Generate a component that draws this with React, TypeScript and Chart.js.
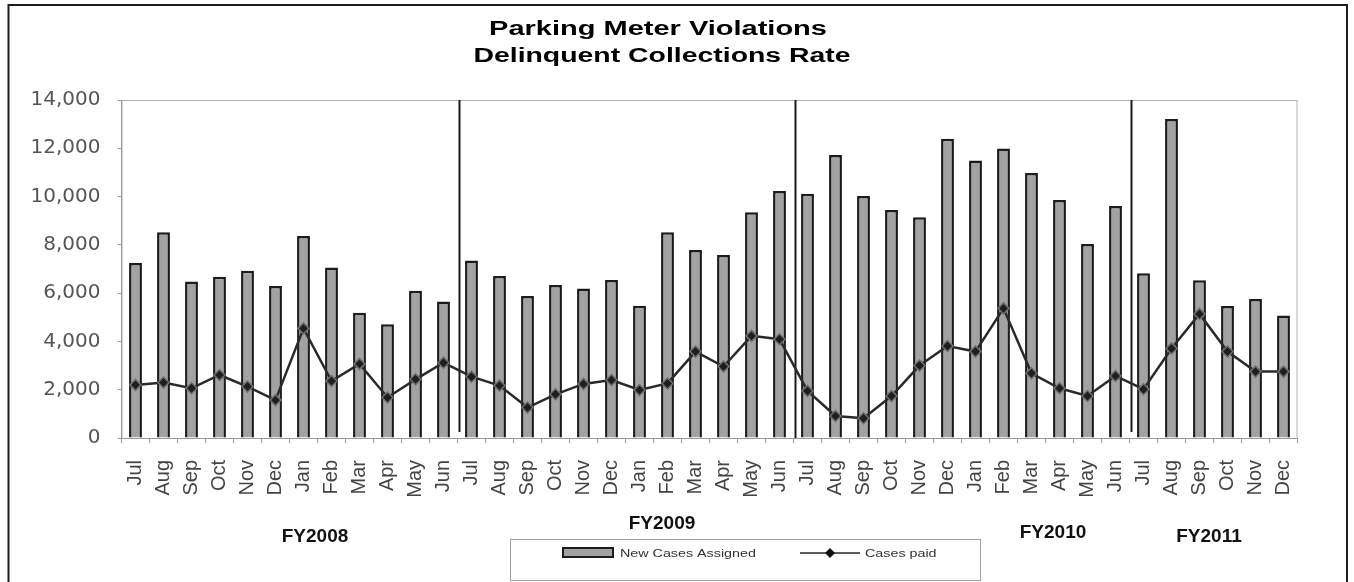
import React, { useEffect, useRef } from 'react';
import { Chart, registerables } from 'chart.js';

Chart.register(...registerables);

const monthLabels = [
  'Jul', 'Aug', 'Sep', 'Oct', 'Nov', 'Dec', 'Jan', 'Feb', 'Mar', 'Apr', 'May', 'Jun',
  'Jul', 'Aug', 'Sep', 'Oct', 'Nov', 'Dec', 'Jan', 'Feb', 'Mar', 'Apr', 'May', 'Jun',
  'Jul', 'Aug', 'Sep', 'Oct', 'Nov', 'Dec', 'Jan', 'Feb', 'Mar', 'Apr', 'May', 'Jun',
  'Jul', 'Aug', 'Sep', 'Oct', 'Nov', 'Dec',
];

const newCasesAssigned = [
  7250, 8520, 6480, 6680, 6930, 6300, 8370, 7060, 5190, 4710, 6100, 5650,
  7350, 6710, 5880, 6340, 6190, 6540, 5480, 8520, 7790, 7580, 9350, 10230,
  10120, 11720, 10020, 9440, 9140, 12390, 11490, 11990, 10980, 9860, 8040, 9610,
  6820, 13210, 6530, 5470, 5760, 5070,
];

const casesPaid = [
  2200, 2300, 2060, 2610, 2130, 1570, 4540, 2360, 3070, 1680, 2430, 3120,
  2540, 2170, 1260, 1810, 2240, 2400, 1990, 2260, 3580, 2960, 4230, 4090,
  1950, 910, 820, 1740, 3000, 3810, 3580, 5370, 2680, 2060, 1740, 2570,
  2020, 3710, 5140, 3580, 2750, 2750,
];

const fiscalYears = ['FY2008', 'FY2009', 'FY2010', 'FY2011'];
const fyStartIndex = [0, 12, 24, 36];
const titleLines = ['Parking Meter Violations', 'Delinquent Collections Rate'];
const seriesNames = ['New Cases Assigned', 'Cases paid'];
const yMin = 0;
const yMax = 14000;
const yStep = 2000;

// layout of annotation text (pixels)
const fyLabelPos = [
  { x: 315, y: 542 },
  { x: 662, y: 529 },
  { x: 1053, y: 538 },
  { x: 1209, y: 542 },
];

const BAR_FILL = '#a2a2a2';
const BAR_EDGE = '#1c1c1c';
const LINE_COLOR = '#2a2a2a';

function drawStretched(ctx: CanvasRenderingContext2D, text: string, x: number, y: number, sx: number, align: CanvasTextAlign) {
  ctx.save();
  ctx.translate(x, y);
  ctx.scale(sx, 1);
  ctx.textAlign = align;
  ctx.textBaseline = 'alphabetic';
  ctx.fillText(text, 0, 0);
  ctx.restore();
}

const decorPlugin = {
  id: 'decor',
  beforeDraw(chart: any) {
    const { ctx, width, height } = chart;
    const { left, top, right, bottom } = chart.chartArea;
    ctx.save();
    ctx.fillStyle = '#ffffff';
    ctx.fillRect(0, 0, width, height);
    // outer frame
    ctx.strokeStyle = '#1e1e1e';
    ctx.lineWidth = 2;
    ctx.beginPath();
    ctx.moveTo(8.5, height);
    ctx.lineTo(8.5, 5);
    ctx.lineTo(1347, 5);
    ctx.lineTo(1347, height);
    ctx.stroke();
    // plot area border
    ctx.strokeStyle = '#b0b0b0';
    ctx.lineWidth = 1;
    ctx.strokeRect(left + 0.5, top + 0.5, right - left - 1, bottom - top);
    ctx.restore();
  },
  beforeDatasetsDraw(chart: any) {
    const { ctx } = chart;
    const { top, bottom } = chart.chartArea;
    const xs = chart.scales.x;
    ctx.save();
    ctx.strokeStyle = '#1a1a1a';
    ctx.lineWidth = 2;
    fyStartIndex.slice(1).forEach((idx, i) => {
      const x = (xs.getPixelForValue(idx - 1) + xs.getPixelForValue(idx)) / 2 + 2;
      ctx.beginPath();
      ctx.moveTo(x, top);
      ctx.lineTo(x, i === 1 ? bottom : bottom - 6);
      ctx.stroke();
    });
    ctx.restore();
  },
  afterDraw(chart: any) {
    const { ctx } = chart;
    ctx.save();
    // title
    ctx.fillStyle = '#000000';
    ctx.font = 'bold 20px "Liberation Sans", Arial, sans-serif';
    drawStretched(ctx, titleLines[0], 658, 35, 1.45, 'center');
    drawStretched(ctx, titleLines[1], 662, 62, 1.42, 'center');

    // fiscal year labels
    ctx.fillStyle = '#111111';
    ctx.font = 'bold 19px "Liberation Sans", Arial, sans-serif';
    fiscalYears.forEach((fy, i) => {
      drawStretched(ctx, fy, fyLabelPos[i].x, fyLabelPos[i].y, 1.0, 'center');
    });

    // legend box
    const bx = 510, by = 539, bw = 470, bh = 41;
    ctx.strokeStyle = '#a0a0a0';
    ctx.lineWidth = 1;
    ctx.strokeRect(bx + 0.5, by + 0.5, bw, bh);
    const cy = 553;
    // bar swatch
    ctx.fillStyle = BAR_FILL;
    ctx.fillRect(563, cy - 5, 50, 9);
    ctx.strokeStyle = BAR_EDGE;
    ctx.lineWidth = 2;
    ctx.strokeRect(563, cy - 5, 50, 9);
    ctx.fillStyle = '#333333';
    ctx.font = '11px "Liberation Sans", Arial, sans-serif';
    drawStretched(ctx, seriesNames[0], 620, cy + 4, 1.3, 'left');
    // line swatch
    ctx.strokeStyle = LINE_COLOR;
    ctx.lineWidth = 1.5;
    ctx.beginPath();
    ctx.moveTo(800, cy);
    ctx.lineTo(860, cy);
    ctx.stroke();
    ctx.fillStyle = '#111111';
    ctx.beginPath();
    ctx.moveTo(830, cy - 5);
    ctx.lineTo(835, cy);
    ctx.lineTo(830, cy + 5);
    ctx.lineTo(825, cy);
    ctx.closePath();
    ctx.fill();
    ctx.fillStyle = '#333333';
    drawStretched(ctx, seriesNames[1], 865, cy + 4, 1.3, 'left');
    ctx.restore();
  },
};

export default function App() {
  const canvasRef = useRef<HTMLCanvasElement | null>(null);

  useEffect(() => {
    const canvas = canvasRef.current;
    if (!canvas) return;
    const chart = new Chart(canvas, {
      type: 'bar',
      data: {
        labels: monthLabels,
        datasets: [
          {
            type: 'line',
            label: seriesNames[1],
            data: casesPaid,
            borderColor: LINE_COLOR,
            borderWidth: 2.5,
            pointStyle: 'rectRot',
            pointRadius: 5.5,
            pointBackgroundColor: '#1e1e1e',
            pointBorderColor: '#6e6e6e',
            pointBorderWidth: 1.5,
            tension: 0,
            fill: false,
            order: 0,
          } as any,
          {
            type: 'bar',
            label: seriesNames[0],
            data: newCasesAssigned,
            backgroundColor: BAR_FILL,
            borderColor: BAR_EDGE,
            borderWidth: 2.5,
            barPercentage: 0.46,
            categoryPercentage: 1.0,
            order: 1,
          } as any,
        ],
      },
      options: {
        responsive: false,
        animation: false,
        layout: { padding: { left: 0, right: 56.5, top: 100, bottom: 44 } },
        plugins: {
          legend: { display: false },
          title: { display: false },
          tooltip: { enabled: false },
        },
        scales: {
          x: {
            offset: true,
            grid: {
              display: true,
              offset: true,
              drawOnChartArea: false,
              drawTicks: true,
              tickLength: 5,
              color: '#9a9a9a',
            },
            border: { display: true, color: '#9a9a9a', width: 1 },
            ticks: {
              autoSkip: false,
              maxRotation: 90,
              minRotation: 90,
              padding: 17,
              color: '#444444',
              font: { family: '"Liberation Sans", Arial, sans-serif', size: 20 },
            },
            afterFit(scale: any) {
              scale.height = 100;
            },
          },
          y: {
            min: yMin,
            max: yMax,
            grid: {
              display: true,
              drawOnChartArea: false,
              drawTicks: true,
              tickLength: 4,
              color: '#9a9a9a',
            },
            border: { display: true, color: '#9a9a9a', width: 1 },
            ticks: {
              stepSize: yStep,
              padding: 17,
              color: '#555555',
              font: { family: '"DejaVu Sans", sans-serif', size: 20 },
              callback: (v: any) => Number(v).toLocaleString('en-US'),
            },
            afterFit(scale: any) {
              scale.width = 121.5;
            },
          },
        },
      },
      plugins: [decorPlugin],
    });
    return () => chart.destroy();
  }, []);

  return (
    <div style={{ position: 'fixed', left: 0, top: 0, width: 1354, height: 582, background: '#fff' }}>
      <canvas ref={canvasRef} width={1354} height={582} style={{ display: 'block', width: 1354, height: 582 }} />
    </div>
  );
}
